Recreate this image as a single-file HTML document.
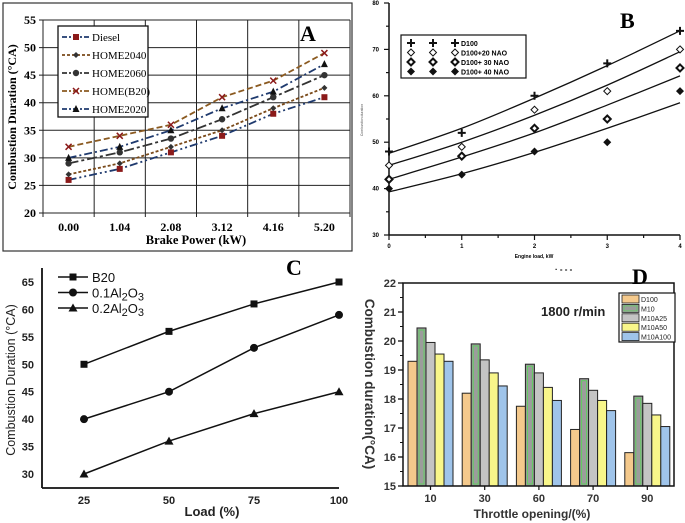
<!DOCTYPE html>
<html><head><meta charset="utf-8"><style>
html,body{margin:0;padding:0;background:#fff;width:685px;height:523px;overflow:hidden}
svg{display:block}
text{font-family:"Liberation Sans",sans-serif}
.serif{font-family:"Liberation Serif",serif}
</style></head><body>
<svg id="fig" width="685" height="523" viewBox="0 0 685 523"></svg>
<script>
// ---------- Panel A data ----------
const aCats = ["0.00","1.04","2.08","3.12","4.16","5.20"];
const aNames = ["Diesel","HOME2040","HOME2060","HOME(B20)","HOME2020"];
const aDiesel = [26,28,31,34,38,41];
const aH2040 = [27,29,32,35,39,42.7];
const aH2060 = [29,31,33.5,37,41,45];
const aB20 = [32,34,36,41,44,49];
const aH2020 = [30,32,35,39,42,47];
const aYTicks = [20,25,30,35,40,45,50,55];
// ---------- Panel B data ----------
const bXTicks = [0,1,2,3,4];
const bYTicks = [30,40,50,60,70,80];
const bNames = ["D100","D100+20 NAO","D100+ 30 NAO","D100+ 40 NAO"];
const bD100 = [48,52,60,67,74];
const bN20 = [45,49,57,61,70];
const bN30 = [42,47,53,55,66];
const bN40 = [40,43,48,50,61];
const bFit100 = [47.6,53,59.5,66.5,74];
const bFit20 = [45,50,55.8,62.3,69.5];
const bFit30 = [42,46.8,52,58,64.3];
const bFit40 = [39.3,43.2,47.8,53,58.5];
// ---------- Panel C data ----------
const cCats = [25,50,75,100];
const cYTicks = [30,35,40,45,50,55,60,65];
const cB20 = [50,56,61,65];
const cAl1 = [40,45,53,59];
const cAl2 = [30,36,41,45];
// ---------- Panel D data ----------
const dCats = ["10","30","60","70","90"];
const dNames = ["D100","M10","M10A25","M10A50","M10A100"];
const dD100 = [19.3,18.2,17.75,16.95,16.15];
const dM10 = [20.45,19.9,19.2,18.7,18.1];
const dA25 = [19.95,19.35,18.9,18.3,17.85];
const dA50 = [19.55,18.9,18.4,17.95,17.45];
const dA100 = [19.3,18.45,17.95,17.6,17.05];
const dYTicks = [15,16,17,18,19,20,21,22];

const NS="http://www.w3.org/2000/svg";
const svg=document.getElementById('fig');
function mk(tag,attrs,parent,txt){const e=document.createElementNS(NS,tag);for(const k in attrs)e.setAttribute(k,attrs[k]);if(txt!==undefined)e.textContent=txt;(parent||svg).appendChild(e);return e;}
function grp(name){const g=mk('g',{});


return g;}

// ================= Panel A =================
(function(){
const g=grp('panel-a');
const L=43,R=350,T=20,B=213;
const y=v=>B-(v-20)/35*(B-T);
const step=(R-L)/6;
const x=i=>L+step*(i+0.5);
let r=mk('rect',{x:3,y:3,width:349,height:248,fill:'none',stroke:'#333','stroke-width':1.2},g);


for(const v of aYTicks){const l=mk('line',{x1:L-4,x2:R,y1:y(v),y2:y(v),stroke:'#222','stroke-width':1},g);


const t=mk('text',{x:L-7,y:y(v)+4,'text-anchor':'end','font-size':12,'font-weight':'bold',class:'serif'},g,String(v));

}
for(let i=0;i<=6;i++){const l=mk('line',{x1:L+step*i,x2:L+step*i,y1:T,y2:B+4,stroke:'#222','stroke-width':1},g);

}
aCats.forEach((c,i)=>{const t=mk('text',{x:x(i),y:B+18,'text-anchor':'middle','font-size':12,'font-weight':'bold',class:'serif'},g,c);

});
let t=mk('text',{x:196,y:244,'text-anchor':'middle','font-size':12.5,'font-weight':'bold',class:'serif'},g,'Brake Power (kW)');


t=mk('text',{transform:'translate(16,117) rotate(-90)','text-anchor':'middle','font-size':12,'font-weight':'bold',class:'serif'},g,'Combustion Duration (°CA)');


const series=[[aDiesel,'#1f3a6e','8 3 2 3 2 3','sq','#8b1a1a'],[aH2040,'#7a4a1a','3 2','dia','#333'],[aH2060,'#333','10 3 3 3','circ','#333'],[aB20,'#8b5a20','6 3','x','#8b1a1a'],[aH2020,'#1f3a6e','8 3 2 3','tri','#111']];
function marker(px,py,type,col,parent){
 let m;
 if(type==='sq')m=mk('rect',{x:px-3,y:py-3,width:6,height:6,fill:col},parent);
 else if(type==='dia')m=mk('path',{d:`M${px} ${py-3}L${px+3} ${py}L${px} ${py+3}L${px-3} ${py}Z`,fill:col},parent);
 else if(type==='circ')m=mk('circle',{cx:px,cy:py,r:3.2,fill:col},parent);
 else if(type==='x')m=mk('path',{d:`M${px-3} ${py-3}L${px+3} ${py+3}M${px+3} ${py-3}L${px-3} ${py+3}`,stroke:col,'stroke-width':1.5},parent);
 else m=mk('path',{d:`M${px} ${py-4}L${px+3.5} ${py+3}L${px-3.5} ${py+3}Z`,fill:col},parent);
 return m;}
series.forEach((s,k)=>{
 const pts=s[0].map((v,i)=>x(i)+','+y(v)).join(' ');
 const pl=mk('polyline',{points:pts,fill:'none',stroke:s[1],'stroke-width':1.8,'stroke-dasharray':s[2]},g);
 
 
 s[0].forEach((v,i)=>{const m=marker(x(i),y(v),s[3],s[4],g);
 
 });
});
const lg=mk('g',{},g);


mk('rect',{x:58,y:26,width:90,height:91,fill:'#fff',stroke:'#111','stroke-width':1.3},lg);
series.forEach((s,k)=>{const yy=37+k*18;
 mk('line',{x1:62,x2:90,y1:yy,y2:yy,stroke:s[1],'stroke-width':1.8,'stroke-dasharray':s[2]==='3 2'?'3 2':'5 2 2 2'},lg);
 marker(76,yy,s[3],s[4],lg);
 const e=mk('text',{x:92,y:yy+4,'font-size':11,class:'serif'},lg,aNames[k]);
 
 });
t=mk('text',{x:300,y:41,'font-size':22,'font-weight':'bold',class:'serif'},g,'A');


})();

// ================= Panel B =================
(function(){
const g=grp('panel-b');
const L=389,R=680,T=3,B=235;
const x=v=>L+v/4*(R-L);
const y=v=>B-(v-30)/50*(B-T);
mk('line',{x1:L,x2:L,y1:T,y2:B,stroke:'#111','stroke-width':1.5},g);
mk('line',{x1:L,x2:R,y1:B,y2:B,stroke:'#111','stroke-width':1.5},g);
for(let v=30;v<=80;v+=5){mk('line',{x1:L-(v%10?3:5),x2:L,y1:y(v),y2:y(v),stroke:'#111','stroke-width':1.2},g);}
bYTicks.forEach(v=>{const t=mk('text',{x:L-10,y:y(v)+2,'text-anchor':'end','font-size':6,'font-weight':'bold'},g,String(v));

});
for(let v=0;v<=4;v+=0.5){mk('line',{x1:x(v),x2:x(v),y1:B,y2:B+(v%1?3:5),stroke:'#111','stroke-width':1.2},g);}
bXTicks.forEach(v=>{const t=mk('text',{x:x(v),y:B+13,'text-anchor':'middle','font-size':6,'font-weight':'bold'},g,String(v));

});
let t=mk('text',{x:534,y:258,'text-anchor':'middle','font-size':5,'font-weight':'bold'},g,'Engine load, kW');


t=mk('text',{transform:'translate(363,120) rotate(-90)','text-anchor':'middle','font-size':3.5,fill:'#555'},g,'Combustion duration');


const fits=[bFit100,bFit20,bFit30,bFit40];
fits.forEach((f,k)=>{
 const P=f.map((v,i)=>[x(bXTicks[i]),y(v)]);
 let d='M'+P[0][0]+' '+P[0][1];
 for(let i=0;i<P.length-1;i++){
  const p0=P[Math.max(i-1,0)],p1=P[i],p2=P[i+1],p3=P[Math.min(i+2,P.length-1)];
  const c1=[p1[0]+(p2[0]-p0[0])/6,p1[1]+(p2[1]-p0[1])/6];
  const c2=[p2[0]-(p3[0]-p1[0])/6,p2[1]-(p3[1]-p1[1])/6];
  d+=` C${c1[0]} ${c1[1]} ${c2[0]} ${c2[1]} ${p2[0]} ${p2[1]}`;}
 const p=mk('path',{d:d,fill:'none',stroke:'#111','stroke-width':1.3},g);
 
 });
function mB(px,py,k,parent){
 if(k===0)return mk('path',{d:`M${px-4} ${py}H${px+4}M${px} ${py-4}V${py+4}`,stroke:'#111','stroke-width':2},parent);
 if(k===1)return mk('path',{d:`M${px} ${py-3.5}L${px+3.5} ${py}L${px} ${py+3.5}L${px-3.5} ${py}Z`,fill:'#fff',stroke:'#111','stroke-width':1},parent);
 if(k===2)return mk('path',{d:`M${px} ${py-3.5}L${px+3.5} ${py}L${px} ${py+3.5}L${px-3.5} ${py}Z`,fill:'#fff',stroke:'#111','stroke-width':2},parent);
 return mk('path',{d:`M${px} ${py-4}L${px+4} ${py}L${px} ${py+4}L${px-4} ${py}Z`,fill:'#111'},parent);}
[bD100,bN20,bN30,bN40].forEach((s,k)=>{s.forEach((v,i)=>{const m=mB(x(bXTicks[i]),y(v),k,g);
 
 });});
const lg=mk('g',{},g);


mk('rect',{x:401,y:35,width:125,height:43,fill:'#fff',stroke:'#111','stroke-width':1.2},lg);
bNames.forEach((n,k)=>{const yy=43+k*9.5;
 mB(411,yy,k,lg);mB(433,yy,k,lg);mB(455,yy,k,lg);
 const e=mk('text',{x:461,y:yy+3,'font-size':7,'font-weight':'bold'},lg,n);
 
 });
t=mk('text',{x:620,y:28,'font-size':22,'font-weight':'bold',class:'serif'},g,'B');


mk('text',{x:555,y:272,'font-size':8,'font-weight':'bold'},g,'·    - - -');
})();

// ================= Panel C =================
(function(){
const g=grp('panel-c');
const L=42,R=339,B=488,T=268;
const x=v=>84+(v-25)/75*(339-84);
const y=v=>474-(v-30)/35*(474-282);
mk('line',{x1:L,x2:L,y1:T,y2:B,stroke:'#111','stroke-width':1.8},g);
mk('line',{x1:L,x2:R,y1:B,y2:B,stroke:'#111','stroke-width':1.8},g);
cYTicks.forEach(v=>{const t=mk('text',{x:L-8,y:y(v)+4,'text-anchor':'end','font-size':11,'font-weight':'bold',fill:'#222'},g,String(v));

});
cCats.forEach(v=>{const t=mk('text',{x:x(v),y:B+16,'text-anchor':'middle','font-size':11,'font-weight':'bold',fill:'#222'},g,String(v));

});
let t=mk('text',{x:212,y:516,'text-anchor':'middle','font-size':13,'font-weight':'bold',fill:'#222'},g,'Load (%)');


t=mk('text',{transform:'translate(15,380) rotate(-90)','text-anchor':'middle','font-size':12.5,fill:'#222'},g,'Combustion Duration  (°CA)');


function mC(px,py,k,parent){
 if(k===0)return mk('rect',{x:px-3.5,y:py-3.5,width:7,height:7,fill:'#111'},parent);
 if(k===1)return mk('circle',{cx:px,cy:py,r:4,fill:'#111'},parent);
 return mk('path',{d:`M${px} ${py-4.5}L${px+4.5} ${py+3.5}L${px-4.5} ${py+3.5}Z`,fill:'#111'},parent);}
const names=['b20','0.1al2o3','0.2al2o3'];
[cB20,cAl1,cAl2].forEach((s,k)=>{
 const pl=mk('polyline',{points:s.map((v,i)=>x(cCats[i])+','+y(v)).join(' '),fill:'none',stroke:'#111','stroke-width':1.5},g);
 
 
 s.forEach((v,i)=>{const m=mC(x(cCats[i]),y(v),k,g);
 
 });});
const lg=mk('g',{},g);


const labs=[['B20'],['0.1Al','2','O','3'],['0.2Al','2','O','3']];
labs.forEach((l,k)=>{const yy=277+k*15.5;
 mk('line',{x1:58,x2:88,y1:yy,y2:yy,stroke:'#111','stroke-width':1.5},lg);
 mC(73,yy,k,lg);
 const e=mk('text',{x:92,y:yy+5,'font-size':13,fill:'#111'},lg);
 
 
 l.forEach((p,j)=>{mk('tspan',j%2===1?{'font-size':11,dy:3}:(j===2?{dy:-3}:{}),e,p);});});
t=mk('text',{x:286,y:275,'font-size':22,'font-weight':'bold',class:'serif'},g,'C');


})();

// ================= Panel D =================
(function(){
const g=grp('panel-d');
const L=403,R=674,T=283,B=486;
const y=v=>B-(v-15)/7*(B-T);
const gw=54.2, c0=430.5, bw=9;
const cx=i=>c0+gw*i;
const fills=['#f4c98c','#9c9c9c','#c4c4c4','#f8f68a','#9fc4ea'];
[dD100,dM10,dA25,dA50,dA100].forEach((s,k)=>{s.forEach((v,i)=>{
 const bx=cx(i)-2.5*bw+k*bw;
 const r=mk('rect',{x:bx,y:y(v),width:bw,height:B-y(v),fill:fills[k],stroke:'#222','stroke-width':1},g);
 
 
 if(k===1)mk('rect',{x:bx+2,y:y(v)+2,width:bw-4,height:B-y(v)-4,fill:'none',stroke:'#5fcf5f','stroke-width':1},g);
});});
mk('rect',{x:L,y:T,width:R-L,height:B-T,fill:'none',stroke:'#111','stroke-width':1.5},g);
dYTicks.forEach(v=>{mk('line',{x1:L-5,x2:L,y1:y(v),y2:y(v),stroke:'#111','stroke-width':1.3},g);
 if(v<22)mk('line',{x1:L-3,x2:L,y1:y(v+0.5),y2:y(v+0.5),stroke:'#111','stroke-width':1},g);
 const t=mk('text',{x:L-7,y:y(v)+4,'text-anchor':'end','font-size':11,'font-weight':'bold',fill:'#333'},g,String(v));
 
 });
dCats.forEach((c,i)=>{mk('line',{x1:cx(i),x2:cx(i),y1:B,y2:B+4,stroke:'#111','stroke-width':1.2},g);
 const t=mk('text',{x:cx(i),y:B+16,'text-anchor':'middle','font-size':11,'font-weight':'bold',fill:'#333'},g,c);
 
 });
let t=mk('text',{x:532,y:518,'text-anchor':'middle','font-size':12,'font-weight':'bold',fill:'#333'},g,'Throttle opening/(%)');


t=mk('text',{transform:'translate(365,384) rotate(90)','text-anchor':'middle','font-size':13.5,'font-weight':'bold',fill:'#333'},g,'Combustion duration(°CA)');


t=mk('text',{x:541,y:316,'font-size':13,'font-weight':'bold',fill:'#222'},g,'1800 r/min');


const lg=mk('g',{},g);


mk('rect',{x:619,y:293,width:56,height:49,fill:'#fff',stroke:'#111','stroke-width':1.2},lg);
dNames.forEach((n,k)=>{const yy=295+k*9.4;
 mk('rect',{x:622,y:yy,width:17,height:8,fill:fills[k],stroke:'#222','stroke-width':0.8},lg);
 if(k===1)mk('rect',{x:624,y:yy+1.5,width:13,height:5,fill:'none',stroke:'#5fcf5f','stroke-width':0.8},lg);
 const e=mk('text',{x:641,y:yy+7,'font-size':7,fill:'#222'},lg,n);
 
 });
t=mk('text',{x:632,y:284,'font-size':22,'font-weight':'bold',class:'serif'},g,'D');


})();
</script>
</body></html>
